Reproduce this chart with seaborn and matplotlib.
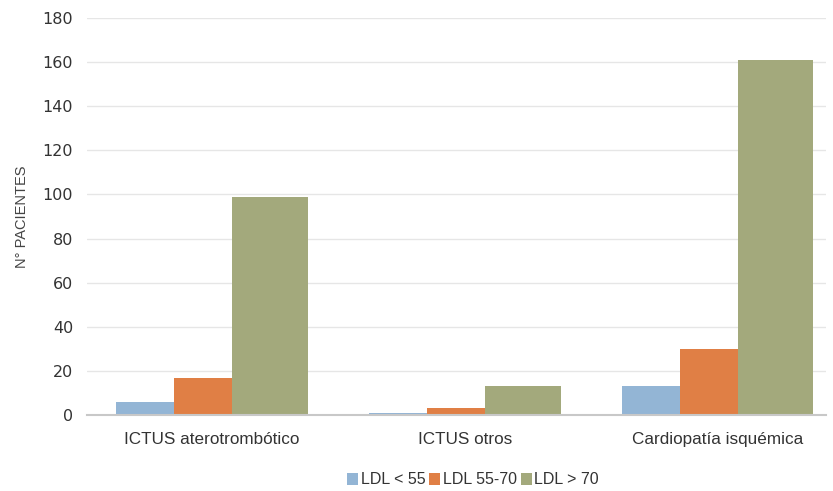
import matplotlib
matplotlib.use("Agg")
import matplotlib.pyplot as plt
import seaborn as sns
import pandas as pd
from matplotlib.patches import Patch

categories = ["ICTUS aterotrombótico", "ICTUS otros", "Cardiopatía isquémica"]
series = ["LDL < 55", "LDL 55-70", "LDL > 70"]
ldl_lt55 = [6, 1, 13]
ldl_55_70 = [17, 3, 30]
ldl_gt70 = [99, 13, 161]
yticks = [0, 20, 40, 60, 80, 100, 120, 140, 160, 180]

colors = ["#93b5d5", "#e07f45", "#a3a97c"]

df = pd.DataFrame({
    "cat": categories * 3,
    "serie": [series[0]] * 3 + [series[1]] * 3 + [series[2]] * 3,
    "val": ldl_lt55 + ldl_55_70 + ldl_gt70,
})

sns.set_theme(style="white")
plt.rcParams["font.family"] = ["Liberation Sans", "DejaVu Sans"]

fig = plt.figure(figsize=(8.33, 4.91), dpi=100)
ax = fig.add_axes([87 / 833, 1 - 415 / 491, 739 / 833, 397 / 491])

sns.barplot(data=df, x="cat", y="val", hue="serie", order=categories,
            hue_order=series, palette=colors, width=0.76, ax=ax,
            saturation=1, legend=False)

# adjust bar offsets / widths (green bars wider as in reference)
offs = [(-0.379, 0.229), (-0.150, 0.229), (0.079, 0.300)]
for si, cont in enumerate(ax.containers):
    for ci, p in enumerate(cont.patches):
        o, w = offs[si]
        p.set_x(ci + o)
        p.set_width(w)
        p.set_edgecolor("none")

ax.set_xlim(-0.494, 2.429)
ax.set_ylim(0, 180)
ax.set_yticks(yticks)
ax.set_yticklabels([str(t) for t in yticks], fontsize=11.5, color="#333333",
                   family="DejaVu Sans")
ax.tick_params(axis="x", labelsize=12.3, colors="#333333", pad=12, length=0)
ax.tick_params(axis="y", length=0, pad=10)
ax.set_xlabel("")
ax.set_ylabel("N° PACIENTES", fontsize=10.5, color="#444444", labelpad=10)
ax.yaxis.grid(True, color="#e6e6e6", linewidth=1)
ax.set_axisbelow(True)
for s in ["top", "right", "left"]:
    ax.spines[s].set_visible(False)
ax.spines["bottom"].set_color("#c8c8c8")
ax.spines["bottom"].set_linewidth(1.5)

handles = [Patch(facecolor=c, edgecolor="none") for c in colors]
fig.legend(handles, series, loc="center", bbox_to_anchor=(473 / 833, 1 - 480 / 491),
           ncol=3, frameon=False, fontsize=11.5, handlelength=0.7, handleheight=0.7,
           handletextpad=0.15, columnspacing=0.25, labelcolor="#333333",
           borderpad=0.1)

fig.savefig("out.png", dpi=100)
